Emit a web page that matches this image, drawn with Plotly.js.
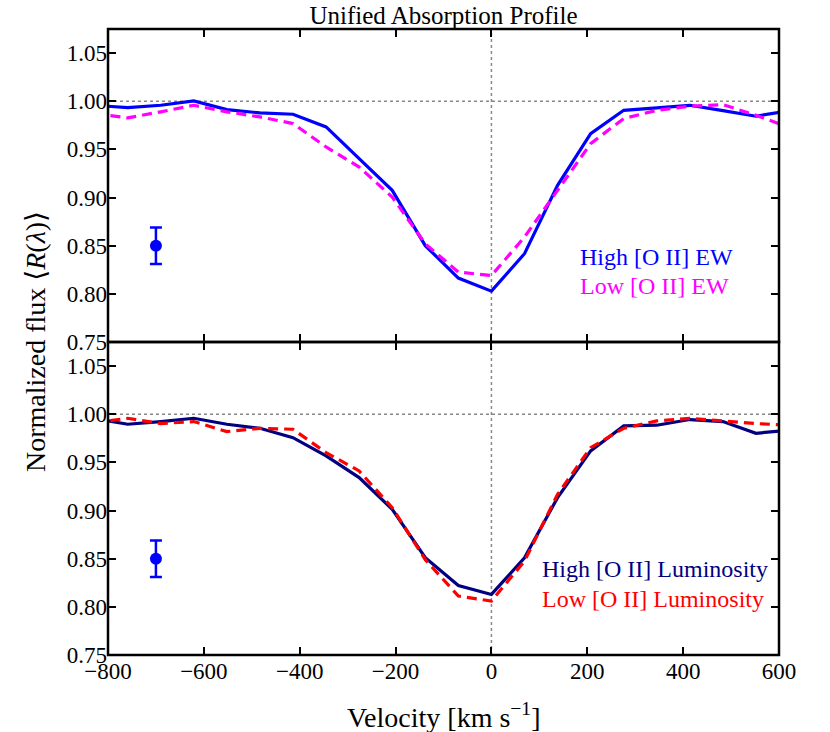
<!DOCTYPE html>
<html>
<head>
<meta charset="utf-8">
<script src="https://cdn.plot.ly/plotly-3.0.1.min.js"></script>
<style>html,body{margin:0;padding:0;background:#fff;}</style>
</head>
<body>
<div id="chart" style="width:830px;height:732px;"></div>
<script>
// Velocity grid (km/s)
const velocity = [-828,-759,-690,-621,-552,-483,-414,-345,-276,-207,-138,-69,0,69,138,207,276,345,414,483,552,621];
// Top panel: [O II] equivalent width split
const highEW = [0.9957,0.9934,0.9958,1.0003,0.9913,0.9879,0.9865,0.9733,0.9404,0.9075,0.850,0.8164,0.8028,0.8417,0.9127,0.9664,0.9906,0.993,0.9958,0.9903,0.9844,0.9903];
const lowEW  = [0.9872,0.9827,0.989,0.9958,0.989,0.9837,0.9768,0.9525,0.9317,0.9005,0.852,0.8226,0.819,0.859,0.9075,0.956,0.982,0.9906,0.9948,0.9965,0.9854,0.973];
// Bottom panel: [O II] luminosity split
const highLum = [0.9955,0.9896,0.9924,0.9958,0.9896,0.9854,0.9757,0.9567,0.9342,0.9012,0.851,0.8222,0.8129,0.851,0.9134,0.9619,0.9879,0.9886,0.9945,0.9924,0.9802,0.9835];
const lowLum  = [0.9912,0.9958,0.9903,0.9924,0.982,0.9854,0.9844,0.9602,0.9411,0.903,0.849,0.8112,0.806,0.8475,0.9168,0.9653,0.9854,0.9931,0.9958,0.9931,0.9903,0.9886];
// Representative error bar
const errX = [-700];
const errY = [0.85];
const errSize = [0.019];
// Labels
const seriesNames = ["High [O II] EW","Low [O II] EW","High [O II] Luminosity","Low [O II] Luminosity"];
const xTicks = [-800,-600,-400,-200,0,200,400,600];
const yTicks = [0.75,0.80,0.85,0.90,0.95,1.00,1.05];
const yTickText = ["0.75","0.80","0.85","0.90","0.95","1.00","1.05"];
const xTickText = ["\u2212800","\u2212600","\u2212400","\u2212200","0","200","400","600"];

const FONT = "'Liberation Serif', 'Times New Roman', serif";
// Title font lists DejaVu Sans explicitly so the angle brackets need no system fallback
const FONT_T = "'Liberation Serif', 'DejaVu Sans', serif";

const traces = [
  {x: velocity, y: highEW, xaxis:'x2', yaxis:'y2', mode:'lines', line:{color:'#0000ff', width:3.2}},
  {x: velocity, y: lowEW, xaxis:'x2', yaxis:'y2', mode:'lines', line:{color:'#ff00ff', width:3.2, dash:'10px,6px'}},
  {x: errX, y: errY, xaxis:'x2', yaxis:'y2', mode:'markers', marker:{color:'#0000ff', size:12}, error_y:{type:'data', array:errSize, color:'#0000ff', thickness:2.5, width:6}},
  {x: velocity, y: highLum, xaxis:'x', yaxis:'y', mode:'lines', line:{color:'#000080', width:3.2}},
  {x: velocity, y: lowLum, xaxis:'x', yaxis:'y', mode:'lines', line:{color:'#ff0000', width:3.2, dash:'10px,6px'}},
  {x: errX, y: errY, xaxis:'x', yaxis:'y', mode:'markers', marker:{color:'#0000ff', size:12}, error_y:{type:'data', array:errSize, color:'#0000ff', thickness:2.5, width:6}}
];

const axisCommon = {
  showgrid:false, zeroline:false, showline:false,
  mirror:'ticks', ticks:'inside', ticklen:8, tickwidth:2, tickcolor:'#000',
  tickfont:{family:FONT, size:23, color:'#000'}
};

const frame = (xr, yr) => ({type:'rect', xref:xr+' domain', yref:yr+' domain', x0:0, x1:1, y0:0, y1:1,
  line:{color:'#000', width:2.5}, fillcolor:'rgba(0,0,0,0)', layer:'above'});
const dotted = {color:'#888', width:1.5, dash:'dot'};

const layout = {
  width:830, height:732,
  margin:{l:108, r:51, t:29, b:77},
  showlegend:false,
  font:{family:FONT, color:'#000'},
  title:{text:'Unified Absorption Profile', font:{family:FONT, size:25, color:'#000'},
         xref:'paper', x:0.5, xanchor:'center', yref:'container', y:1-15/732, yanchor:'middle'},
  xaxis: Object.assign({}, axisCommon, {anchor:'y', range:[-800,600], tickvals:xTicks, ticktext:xTickText}),
  xaxis2: Object.assign({}, axisCommon, {anchor:'y2', matches:'x', range:[-800,600], tickvals:xTicks, showticklabels:false}),
  yaxis: Object.assign({}, axisCommon, {domain:[0,0.5], range:[0.75,1.075], tickvals:yTicks, ticktext:yTickText}),
  yaxis2: Object.assign({}, axisCommon, {domain:[0.5,1], range:[0.75,1.075], tickvals:yTicks, ticktext:yTickText}),
  shapes:[
    {type:'line', xref:'x2 domain', yref:'y2', x0:0, x1:1, y0:1, y1:1, line:dotted, layer:'below'},
    {type:'line', xref:'x2', yref:'y2 domain', x0:0, x1:0, y0:0, y1:1, line:dotted, layer:'below'},
    {type:'line', xref:'x domain', yref:'y', x0:0, x1:1, y0:1, y1:1, line:dotted, layer:'below'},
    {type:'line', xref:'x', yref:'y domain', x0:0, x1:0, y0:0, y1:1, line:dotted, layer:'below'},
    frame('x2','y2'),
    frame('x','y')
  ],
  annotations:[
    {xref:'x2', yref:'y2', x:180, y:0.838, xanchor:'left', yanchor:'middle', showarrow:false, text:seriesNames[0], font:{family:FONT, size:24, color:'#0000ff'}},
    {xref:'x2', yref:'y2', x:180, y:0.808, xanchor:'left', yanchor:'middle', showarrow:false, text:seriesNames[1], font:{family:FONT, size:24, color:'#ff00ff'}},
    {xref:'x', yref:'y', x:102, y:0.839, xanchor:'left', yanchor:'middle', showarrow:false, text:seriesNames[2], font:{family:FONT, size:24, color:'#000080'}},
    {xref:'x', yref:'y', x:102, y:0.808, xanchor:'left', yanchor:'middle', showarrow:false, text:seriesNames[3], font:{family:FONT, size:24, color:'#ff0000'}},
    {xref:'paper', yref:'paper', x:(35-108)/671, y:0.5, xanchor:'center', yanchor:'middle', textangle:-90, showarrow:false,
     text:'Normalized flux \u27E8<i>R</i>(<i>\u03BB</i>)\u27E9', font:{family:FONT_T, size:28, color:'#000'}},
    {xref:'paper', yref:'paper', x:0.5, y:(655-715)/626, xanchor:'center', yanchor:'middle', showarrow:false,
     text:'Velocity [km s<sup>\u22121</sup>]', font:{family:FONT, size:28, color:'#000'}}
  ]
};

Plotly.newPlot('chart', traces, layout, {staticPlot:true, displayModeBar:false});
</script>
</body>
</html>
